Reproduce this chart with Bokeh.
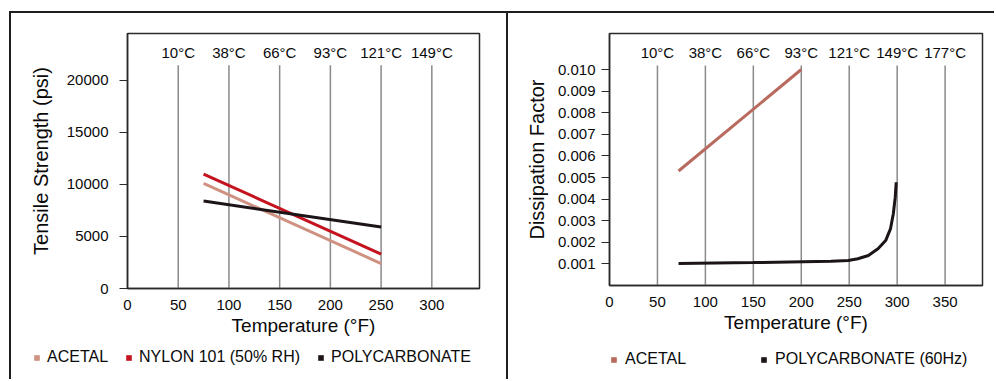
from bokeh.plotting import figure
from bokeh.layouts import row, column
from bokeh.models import FixedTicker, Legend, LegendItem, PrintfTickFormatter, ColumnDataSource
from bokeh.core.properties import value
from bokeh.embed import file_html
from bokeh.resources import INLINE

FONT = "Liberation Sans"

# ---------------- data: tensile strength ----------------
tensile_temp_f = [75, 250]
acetal_tensile = [10100, 2400]
nylon_tensile = [11000, 3300]
pc_tensile = [8400, 5900]

left_x_ticks = [0, 50, 100, 150, 200, 250, 300]
left_y_ticks = [0, 5000, 10000, 15000, 20000]
left_grid_f = [50, 100, 150, 200, 250, 300]
left_celsius = ["10°C", "38°C", "66°C", "93°C", "121°C", "149°C"]
left_series = ["ACETAL", "NYLON 101 (50% RH)", "POLYCARBONATE"]

# ---------------- data: dissipation factor ----------------
acetal_df_temp = [72, 200]
acetal_df = [0.0053, 0.0100]
pc_df_temp = [72, 150, 231, 249, 259, 270, 280, 288, 293, 296, 298, 299]
pc_df = [0.00102, 0.00106, 0.00112, 0.00116, 0.00124, 0.00139, 0.00170,
         0.00208, 0.00262, 0.00332, 0.00409, 0.00478]

right_x_ticks = [0, 50, 100, 150, 200, 250, 300, 350]
right_y_ticks = [0.001, 0.002, 0.003, 0.004, 0.005, 0.006, 0.007, 0.008, 0.009, 0.010]
right_grid_f = [50, 100, 150, 200, 250, 300, 350]
right_celsius = ["10°C", "38°C", "66°C", "93°C", "121°C", "149°C", "177°C"]
right_series = ["ACETAL", "POLYCARBONATE (60Hz)"]

ACETAL_L = "#cf9282"
ACETAL_R = "#b86a5e"
NYLON = "#c4121f"
PC = "#1c1418"
GRID = "#8a8a8a"
FRAME = "#2a2a2a"
BORDER = "2px solid #1e1e1e"
TXT = "#0a0a0a"


def style_axes(p, xt, yt, ytitle, title_size, ystandoff, ylab_standoff):
    p.xaxis.ticker = FixedTicker(ticks=xt)
    p.yaxis.ticker = FixedTicker(ticks=yt)
    p.xgrid.visible = False
    p.ygrid.visible = False
    for ax in (p.xaxis[0], p.yaxis[0]):
        ax.axis_line_color = FRAME
        ax.axis_line_width = 1.5
        ax.major_label_text_font = FONT
        ax.major_label_text_font_size = "15px"
        ax.major_label_text_color = TXT
        ax.axis_label_text_font = FONT
        ax.axis_label_text_font_style = "normal"
        ax.axis_label_text_color = TXT
        ax.minor_tick_line_color = None
        ax.major_tick_in = 0
    p.xaxis.major_tick_out = 0
    p.xaxis.major_label_standoff = 11
    p.xaxis.axis_label = "Temperature (°F)"
    p.xaxis.axis_label_text_font_size = "19px"
    p.xaxis.axis_label_standoff = 2
    p.yaxis.major_tick_out = 8
    p.yaxis.major_tick_line_color = FRAME
    p.yaxis.major_tick_line_width = 1.2
    p.yaxis.major_label_standoff = ylab_standoff
    p.yaxis.axis_label = ytitle
    p.yaxis.axis_label_text_font_size = title_size
    p.yaxis.axis_label_standoff = ystandoff
    p.outline_line_color = FRAME
    p.outline_line_width = 1.5


def legend_figure(width, labels, colors, loc, spacing, standoff):
    lf = figure(width=width, height=34, x_range=(0, 1), y_range=(0, 1),
                output_backend="svg", toolbar_location=None, frame_align=False,
                min_border_left=0, min_border_right=0, min_border_top=0, min_border_bottom=0)
    lf.axis.visible = False
    lf.grid.visible = False
    lf.outline_line_color = None
    # legend swatch proxies: one row each, lying outside the (0, 1) view so only the
    # legend swatch is seen
    rs = []
    for c in colors:
        src = ColumnDataSource(data=dict(l=[2], r=[3], t=[3], b=[2]))
        rs.append(lf.quad(left="l", right="r", top="t", bottom="b", source=src,
                          fill_color=c, line_color=None))
    leg = Legend(items=[LegendItem(label=l, renderers=[r]) for l, r in zip(labels, rs)],
                 orientation="horizontal", location=loc,
                 glyph_width=7, glyph_height=7, label_standoff=standoff, spacing=spacing,
                 padding=0, margin=0, border_line_alpha=0, background_fill_alpha=0,
                 label_text_font=FONT, label_text_font_size="16px",
                 label_text_color=TXT)
    lf.add_layout(leg, "center")
    return lf


# ---------------- left panel ----------------
p1 = figure(width=495, height=332, x_range=(0, 347), y_range=(0, 24500),
            output_backend="svg", toolbar_location=None,
            min_border_left=116, min_border_right=27,
            min_border_top=20, min_border_bottom=57)
style_axes(p1, left_x_ticks, left_y_ticks, "Tensile Strength (psi)", "20px", 12, 11)

p1.segment(x0=left_grid_f, y0=[0] * len(left_grid_f), x1=left_grid_f,
           y1=[21450] * len(left_grid_f), line_color=GRID, line_width=1.5)
p1.text(x=left_grid_f, y=[22700] * len(left_grid_f), text=left_celsius,
        text_font=value(FONT), text_font_size="15px", text_align="center",
        text_baseline="middle", text_color=TXT)

p1.line(tensile_temp_f, acetal_tensile, line_color=ACETAL_L, line_width=3)
p1.line(tensile_temp_f, nylon_tensile, line_color=NYLON, line_width=3)
p1.line(tensile_temp_f, pc_tensile, line_color=PC, line_width=3)

lg1 = legend_figure(495, left_series, [ACETAL_L, NYLON, PC], (22, 13), 17, 7)

# ---------------- right panel ----------------
p2 = figure(width=486, height=332, x_range=(0, 389), y_range=(0, 0.011667),
            output_backend="svg", toolbar_location=None,
            min_border_left=101, min_border_right=12,
            min_border_top=20, min_border_bottom=60)
style_axes(p2, right_x_ticks, right_y_ticks, "Dissipation Factor", "20px", 7, 6)
p2.yaxis.formatter = PrintfTickFormatter(format="%.3f")

p2.segment(x0=right_grid_f, y0=[0] * len(right_grid_f), x1=right_grid_f,
           y1=[0.01018] * len(right_grid_f), line_color=GRID, line_width=1.5)
p2.text(x=right_grid_f, y=[0.01079] * len(right_grid_f), text=right_celsius,
        text_font=value(FONT), text_font_size="15px", text_align="center",
        text_baseline="middle", text_color=TXT)

p2.line(acetal_df_temp, acetal_df, line_color=ACETAL_R, line_width=3)
p2.line(pc_df_temp, pc_df, line_color=PC, line_width=3)

lg2 = legend_figure(486, right_series, [ACETAL_R, PC], (102, 11), 74, 8)

col1 = column(p1, lg1, spacing=0,
              styles={"border-left": BORDER, "border-top": BORDER, "border-right": BORDER})
col2 = column(p2, lg2, spacing=0, styles={"border-top": BORDER})
layout = row(col1, col2, spacing=0, margin=(11, 0, 0, 9))
open("out.html", "w").write(file_html(layout, INLINE))
